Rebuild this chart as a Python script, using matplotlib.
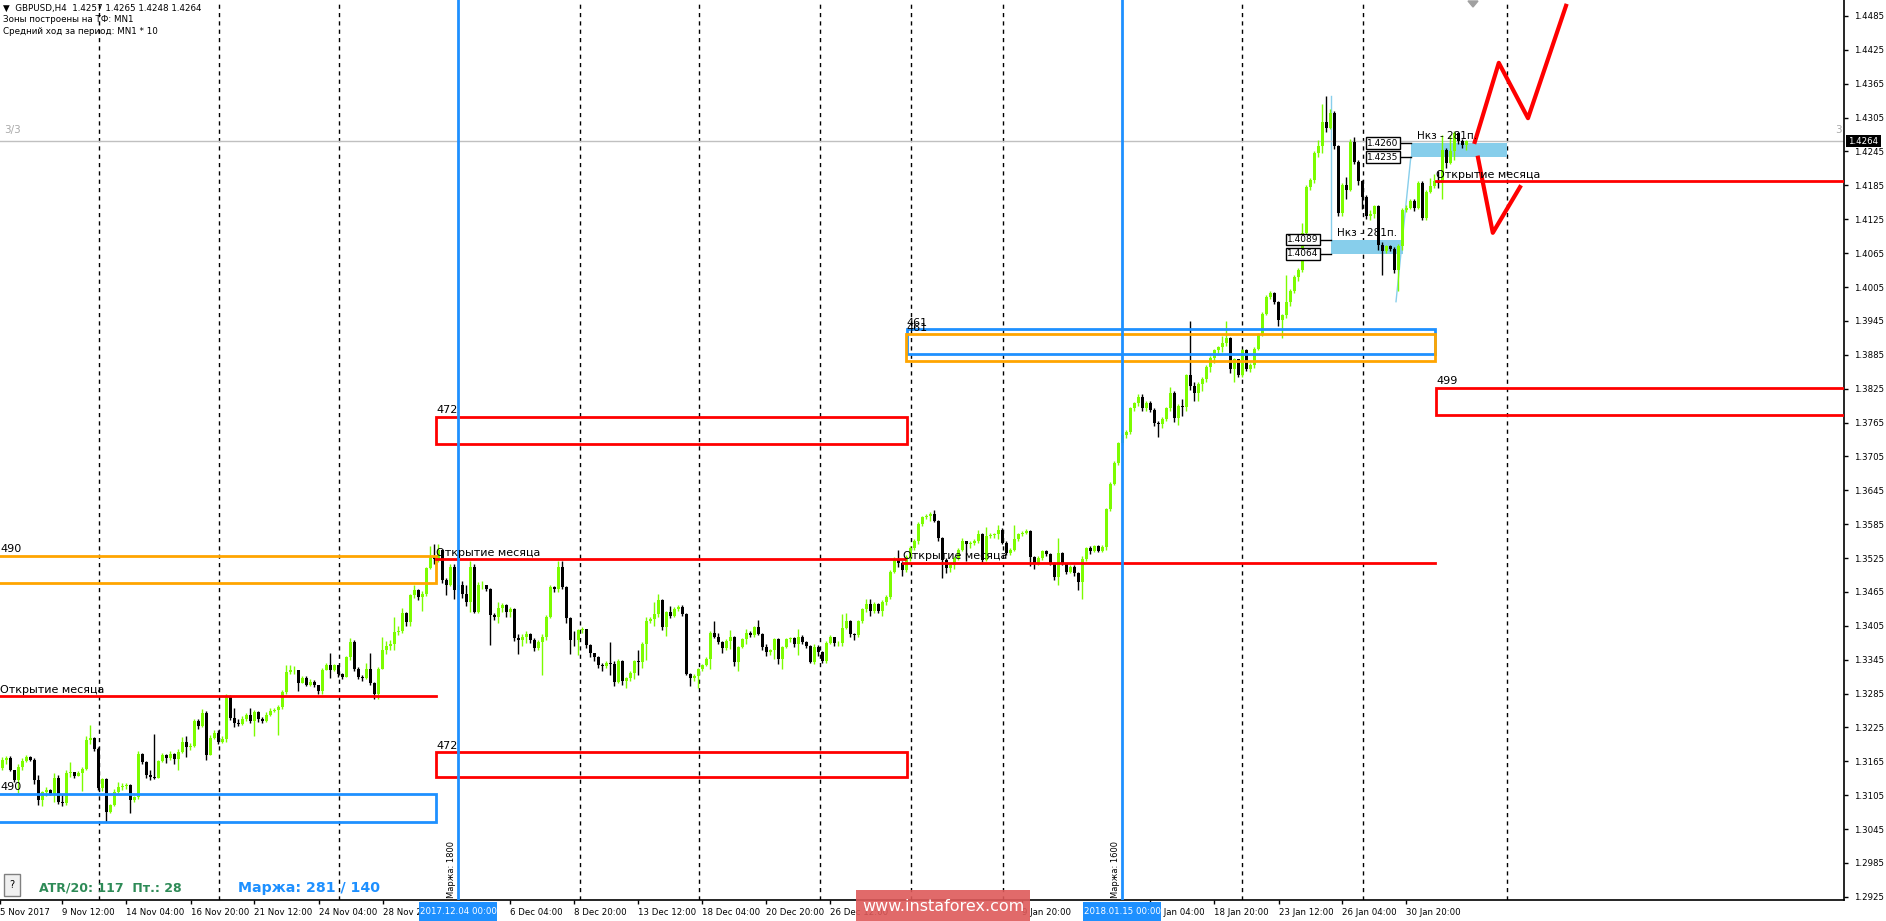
import numpy as np
import matplotlib.pyplot as plt
from matplotlib.patches import Rectangle, Polygon

W, H = 1886, 921
BAR_PX = 4  # MT4 bar spacing at this zoom level

# GBPUSD H4 candles, pips above 1.3000 (open = previous close)
first_open = 153
nov_close = [168, 171, 150, 132, 155, 166, 173, 168, 132, 96, 110, 115, 107, 136, 93, 91, 144, 146, 139, 145,
             152, 203, 207, 186, 117, 133, 76, 88, 111, 120, 121, 123, 96, 101, 178, 163, 140, 137, 136, 166,
             176, 170, 178, 169, 182, 200, 190, 193, 237, 228, 251, 176, 206, 215, 200, 205, 280, 241, 232, 231,
             240, 247, 236, 253, 240, 236, 247, 255, 256, 262, 288, 324, 326, 327, 304, 313, 300, 305, 300, 290,
             327, 336, 327, 335, 320, 315, 350, 377, 329, 315, 312, 329, 303, 285, 329, 362, 369, 372, 394, 395,
             427, 412, 459, 468, 456, 462, 507, 526, 523]
nov_high = [172, 174, 175, 150, 160, 170, 177, 175, 170, 140, 113, 120, 116, 145, 140, 106, 150, 164, 146, 148,
            155, 210, 229, 208, 190, 135, 135, 90, 116, 128, 126, 127, 124, 104, 183, 180, 165, 150, 213, 168,
            180, 178, 183, 180, 186, 208, 210, 198, 240, 240, 258, 255, 212, 220, 221, 210, 285, 282, 260, 240,
            245, 250, 260, 256, 255, 243, 253, 260, 260, 264, 292, 335, 336, 333, 325, 316, 316, 310, 309, 300,
            330, 340, 357, 338, 335, 322, 352, 384, 379, 332, 318, 340, 356, 305, 332, 385, 378, 380, 420, 405,
            437, 430, 462, 478, 470, 467, 510, 547, 550]
nov_low = [150, 160, 148, 128, 109, 150, 163, 165, 125, 88, 85, 103, 105, 93, 90, 85, 88, 138, 136, 140,
           112, 150, 196, 183, 115, 112, 58, 73, 85, 108, 115, 116, 74, 93, 98, 160, 135, 132, 133, 135,
           163, 162, 168, 160, 150, 180, 172, 185, 190, 222, 225, 168, 176, 204, 195, 198, 200, 238, 225, 227,
           230, 237, 232, 209, 235, 232, 234, 245, 252, 212, 258, 285, 320, 320, 290, 303, 298, 298, 296, 285,
           285, 326, 312, 325, 315, 310, 315, 345, 325, 310, 308, 310, 300, 275, 276, 330, 355, 362, 362, 388,
           392, 405, 405, 455, 450, 432, 458, 505, 515]

dec_close = [540, 486, 477, 509, 468, 478, 462, 448, 509, 430, 477, 478, 470, 424, 421, 436, 441, 430, 434, 383,
             380, 386, 391, 380, 365, 377, 385, 421, 474, 470, 509, 474, 418, 380, 379, 397, 399, 371, 356, 350,
             335, 333, 340, 338, 306, 343, 307, 313, 322, 343, 341, 373, 414, 417, 426, 450, 402, 429, 423, 435,
             438, 426, 320, 313, 316, 328, 335, 346, 393, 386, 377, 365, 378, 385, 341, 367, 381, 393, 389, 402,
             390, 367, 359, 362, 381, 346, 368, 381, 383, 373, 386, 376, 369, 341, 368, 358, 343, 375, 385, 374,
             375, 401, 414, 390, 389, 414, 435, 444, 431, 444, 432, 447, 456, 501, 522, 517]
dec_high = [550, 535, 490, 515, 515, 490, 485, 478, 520, 515, 482, 485, 475, 472, 428, 448, 445, 443, 438, 436,
            390, 390, 395, 393, 383, 380, 390, 425, 478, 475, 520, 520, 476, 420, 395, 400, 402, 400, 373, 356,
            352, 340, 343, 376, 343, 346, 345, 315, 325, 345, 362, 376, 420, 420, 447, 462, 452, 432, 440, 438,
            441, 442, 428, 322, 320, 330, 338, 350, 396, 414, 392, 378, 381, 398, 387, 370, 384, 400, 396, 405,
            415, 392, 372, 364, 383, 384, 370, 384, 386, 385, 400, 388, 378, 371, 372, 371, 360, 378, 388, 386,
            378, 426, 428, 415, 393, 416, 437, 453, 453, 447, 446, 450, 459, 503, 526, 540]
dec_low = [518, 480, 459, 475, 452, 470, 455, 440, 430, 428, 428, 470, 466, 371, 415, 410, 430, 420, 420, 378,
           355, 370, 375, 375, 360, 362, 318, 380, 418, 465, 465, 470, 410, 355, 370, 353, 393, 365, 350, 343,
           330, 325, 330, 318, 298, 303, 300, 295, 307, 310, 318, 330, 345, 410, 405, 420, 398, 387, 418, 420,
           432, 423, 318, 298, 308, 295, 325, 333, 328, 384, 372, 357, 362, 364, 334, 325, 365, 372, 385, 386,
           388, 362, 351, 354, 346, 337, 328, 365, 376, 368, 353, 372, 365, 340, 338, 352, 340, 340, 372, 370,
           369, 370, 400, 385, 380, 386, 410, 430, 423, 428, 428, 422, 442, 452, 498, 510]

jan_close = [504, 527, 543, 555, 585, 597, 600, 603, 590, 561, 522, 507, 512, 525, 540, 555, 549, 552, 555, 567,
             522, 564, 566, 567, 574, 552, 534, 540, 558, 567, 570, 573, 526, 514, 525, 537, 532, 516, 492, 534,
             516, 501, 510, 498, 483, 524, 542, 537, 546, 538, 545, 611, 657, 693, 728, 743, 749, 790, 799, 811,
             790, 800, 788, 764, 762, 772, 790, 817, 773, 794, 792, 849, 829, 817, 833, 842, 864, 879, 893, 898,
             906, 915, 859, 877, 849, 893, 860, 867, 896, 920, 957, 988, 994, 979, 947, 955, 979, 998, 1023, 1035,
             1100, 1183, 1195, 1242, 1254, 1298, 1286, 1313, 1254, 1136, 1186, 1177, 1262, 1227, 1192, 1165, 1130,
             1135, 1148, 1080, 1068, 1078, 1073, 1035, 1077, 1141, 1145, 1157, 1145, 1189, 1127, 1174, 1184, 1192]
jan_high = [520, 530, 546, 558, 588, 600, 603, 606, 610, 592, 562, 525, 515, 528, 543, 560, 556, 556, 558, 575,
            570, 580, 569, 570, 584, 578, 556, 543, 584, 570, 573, 576, 574, 528, 528, 540, 540, 534, 518, 561,
            536, 517, 512, 512, 500, 528, 545, 546, 548, 548, 548, 614, 660, 696, 731, 746, 752, 793, 802, 815,
            816, 803, 803, 790, 768, 775, 793, 828, 820, 797, 806, 851, 944, 836, 837, 845, 866, 882, 896, 901,
            918, 945, 917, 880, 878, 896, 895, 870, 898, 923, 960, 990, 998, 997, 981, 958, 1026, 1001, 1026, 1038,
            1118, 1186, 1198, 1246, 1265, 1330, 1343, 1320, 1316, 1256, 1190, 1200, 1268, 1270, 1230, 1195, 1168,
            1142, 1150, 1150, 1085, 1080, 1080, 1075, 1082, 1145, 1150, 1160, 1160, 1192, 1192, 1177, 1198, 1205]
jan_low = [494, 500, 520, 540, 550, 582, 595, 590, 588, 556, 489, 498, 500, 505, 522, 537, 519, 542, 548, 552,
           518, 520, 560, 561, 558, 549, 530, 530, 537, 555, 564, 567, 511, 505, 512, 522, 528, 512, 486, 478,
           512, 497, 498, 494, 468, 453, 520, 533, 535, 535, 535, 540, 608, 655, 690, 725, 738, 744, 786, 795,
           785, 786, 783, 758, 740, 756, 768, 786, 766, 760, 776, 786, 823, 804, 803, 820, 836, 855, 870, 885,
           890, 900, 852, 837, 845, 846, 856, 855, 862, 893, 918, 955, 984, 975, 936, 914, 950, 972, 995, 1015,
           1032, 1098, 1177, 1190, 1236, 1242, 1280, 1284, 1250, 1130, 1130, 1160, 1175, 1222, 1185, 1144, 1125,
           1124, 1128, 1070, 1026, 1065, 1068, 1030, 998, 1070, 1138, 1143, 1140, 1143, 1123, 1123, 1172, 1180]

feb_close = [1189, 1248, 1224, 1245, 1277, 1263, 1257, 1264]
feb_high = [1210, 1274, 1252, 1275, 1282, 1280, 1268, 1265]
feb_low = [1180, 1160, 1215, 1222, 1230, 1258, 1252, 1248]

# month opens ("Открытие месяца"), start bar of each month
month_open = [1.3281, 1.3523, 1.3517, 1.4192]
month_from = [-2, 108.5, 225.3, 358.5]
month_to = [108.5, 225.8, 358.3, 470]

# monthly zones
zone_label = ['490', '490', '472', '472', '461', '461', '499']
zone_lo = [1.3480, 1.3058, 1.3727, 1.3137, 1.3886, 1.3874, 1.3779]
zone_hi = [1.3529, 1.3107, 1.3775, 1.3181, 1.3930, 1.3921, 1.3827]
zone_from = [-2, -2, 108.5, 108.5, 226.2, 226.0, 358.5]
zone_to = [108.5, 108.5, 226.2, 226.2, 358.3, 358.3, 470]
zone_color = ['#FFA500', '#1E90FF', '#FF0000', '#FF0000', '#1E90FF', '#FFA500', '#FF0000']

# "Нкз" target boxes
nkz_lo = [1.4064, 1.4235]
nkz_hi = [1.4089, 1.4260]
nkz_from = [332.2, 352.2]
nkz_to = [350.2, 376.2]

# projection zigzags
zz_up_x = [368.2, 374.2, 381.5, 391.0]
zz_up_y = [1.4262, 1.4402, 1.4304, 1.4503]
zz_dn_x = [369.0, 372.7, 379.5]
zz_dn_y = [1.4234, 1.4101, 1.4182]

# margin vertical lines
margin_bar = [114, 280]
margin_text = ['Маржа: 1800', 'Маржа: 1600']
margin_date = ['2017.12.04 00:00', '2018.01.15 00:00']

grid_px = [99, 219, 339, 580, 699, 820, 911, 1003, 1242, 1363, 1507]

date_px = [0, 62, 126, 191, 254, 319, 383, 510, 574, 638, 702, 766, 830,
           1022, 1150, 1214, 1279, 1342, 1406]
date_labels = ['5 Nov 2017', '9 Nov 12:00', '14 Nov 04:00', '16 Nov 20:00', '21 Nov 12:00',
               '24 Nov 04:00', '28 Nov 20:00', '6 Dec 04:00', '8 Dec 20:00',
               '13 Dec 12:00', '18 Dec 04:00', '20 Dec 20:00', '26 Dec 12:00',
               '9 Jan 20:00', '16 Jan 04:00', '18 Jan 20:00',
               '23 Jan 12:00', '26 Jan 04:00', '30 Jan 20:00']

price_ticks = [round(1.2925 + 0.006 * k, 4) for k in range(27)]
last_price = 1.4264


def px2bar(px):
    return px / BAR_PX - 0.5


close = 1.3 + np.array(nov_close + dec_close + jan_close + feb_close) / 10000
high = 1.3 + np.array(nov_high + dec_high + jan_high + feb_high) / 10000
low = 1.3 + np.array(nov_low + dec_low + jan_low + feb_low) / 10000
opn = np.concatenate([[1.3 + first_open / 10000], close[:-1]])
high = np.maximum(high, np.maximum(opn, close))
low = np.minimum(low, np.minimum(opn, close))
idx = np.arange(len(close))
bull = close >= opn

fig = plt.figure(figsize=(W / 100, H / 100), dpi=100)
fig.patch.set_facecolor('white')
ax = fig.add_axes([0, 21 / H, 1844 / W, 900 / H])
ax.set_xlim(-0.5, 460.5)
ax.set_ylim(1.29194, 1.45133)
for s in ['top', 'left']:
    ax.spines[s].set_visible(False)
ax.spines['right'].set_linewidth(1.2)
ax.spines['bottom'].set_linewidth(1.2)

# grid
for g in grid_px:
    ax.axvline(px2bar(g), color='black', lw=1, ls=(0, (3, 3)), zorder=0.5)

# nkz boxes (background)
for lo, hi, x0, x1 in zip(nkz_lo, nkz_hi, nkz_from, nkz_to):
    ax.add_patch(Rectangle((x0, lo), x1 - x0, hi - lo, facecolor='#87CEEB', edgecolor='none', zorder=1))
ax.plot([nkz_from[0], nkz_from[0]], [nkz_hi[0], 1.4343], color='#87CEEB', lw=1, zorder=1)
ax.plot([348.5, nkz_from[1]], [1.3979, nkz_lo[1]], color='#87CEEB', lw=1, zorder=1)

# candles
wick_col = np.where(bull, '#7CFC00', 'black')
ax.vlines(idx, low, high, colors=wick_col, lw=1, zorder=2)
body = np.maximum(np.abs(close - opn), 0.00004)
ax.bar(idx, body, bottom=np.minimum(opn, close), width=0.75, color=wick_col, linewidth=0, zorder=2.1)

# ask line
ax.axhline(last_price, color='#C0C0C0', lw=1, zorder=1.5)

# zones
for lab, lo, hi, x0, x1, c in zip(zone_label, zone_lo, zone_hi, zone_from, zone_to, zone_color):
    ax.add_patch(Rectangle((x0, lo), x1 - x0, hi - lo, fill=False, edgecolor=c, lw=2, zorder=3))
    ax.text(max(x0, -0.5), hi + 0.0003, lab, fontsize=8, va='bottom', ha='left', zorder=4)

# month opens
for y, x0, x1 in zip(month_open, month_from, month_to):
    ax.plot([x0, x1], [y, y], color='#FF0000', lw=2, zorder=3)
    ax.text(max(x0, -0.5), y + 0.0002, 'Открытие месяца', fontsize=8, va='bottom', ha='left', zorder=4)

# margin lines
for b in margin_bar:
    ax.axvline(b, color='#1E90FF', lw=2, zorder=3)

# zigzags
ax.plot(zz_up_x, zz_up_y, color='#FF0000', lw=3, zorder=3)
ax.plot(zz_dn_x, zz_dn_y, color='#FF0000', lw=3, zorder=3)

# nkz labels
for lo, hi, x0 in zip(nkz_lo, nkz_hi, nkz_from):
    lx = x0 - 7
    for v in (hi, lo):
        ax.plot([lx + 4.3, x0], [v, v], color='black', lw=1, zorder=4)
        ax.text(lx, v, f'{v:.4f}', fontsize=6.5, ha='center', va='center', zorder=5,
                bbox=dict(boxstyle='square,pad=0.15', fc='white', ec='black', lw=1))
    ax.text(x0 + 1.5, hi + 0.0012, 'Нкз - 281п.', fontsize=7.5, ha='left', va='center', zorder=5)

# axes ticks
ax.yaxis.tick_right()
ax.set_yticks(price_ticks)
ax.set_yticklabels([f'{v:.4f}' for v in price_ticks])
ax.tick_params(axis='y', length=3, width=1, labelsize=6.2, pad=4)
ax.set_xticks([px2bar(p) for p in date_px])
ax.set_xticklabels(date_labels, ha='left')
ax.tick_params(axis='x', length=3, width=1, labelsize=6.2, pad=3)

# overlay in pixel coordinates
ov = fig.add_axes([0, 0, 1, 1], zorder=10)
ov.set_xlim(0, W)
ov.set_ylim(H, 0)
ov.axis('off')
ov.patch.set_alpha(0)

ov.text(3, 8, '▼  GBPUSD,H4  1.4257 1.4265 1.4248 1.4264', fontsize=6.3, va='center')
ov.text(3, 20, 'Зоны построены на ТФ: MN1', fontsize=6.3, va='center')
ov.text(3, 32, 'Средний ход за период: MN1 * 10', fontsize=6.3, va='center')
ov.text(4, 130, '3/3', fontsize=7.5, color='#A9A9A9', va='center')
ov.text(1835, 130, '3', fontsize=7.5, color='#A9A9A9', va='center')
ov.add_patch(Polygon([(1468, 1), (1478, 1), (1473, 7)], closed=True, color='#A0A0A0'))

# current price tag
ov.add_patch(Rectangle((1846, 135), 35, 12, facecolor='black', edgecolor='none'))
ov.text(1863.5, 141, f'{last_price:.4f}', fontsize=6.2, color='white', ha='center', va='center')

# margin texts and date highlights
for b, t, d in zip(margin_bar, margin_text, margin_date):
    xp = (b + 0.5) * BAR_PX
    ov.text(xp - 7, 898, t, fontsize=6, rotation=90, ha='center', va='bottom')
    ov.add_patch(Rectangle((xp - 39, 902), 78, 19, facecolor='#1E90FF', edgecolor='none'))
    ov.text(xp, 911.5, d, fontsize=6.2, color='white', ha='center', va='center')

# panel info
ov.add_patch(Rectangle((4, 874), 16, 22, facecolor='#F0F0F0', edgecolor='#808080', lw=1))
ov.text(12, 885, '?', fontsize=7, ha='center', va='center')
ov.text(39, 888, 'ATR/20: 117  Пт.: 28', fontsize=9, color='#2E8B57', fontweight='bold', va='center')
ov.text(238, 888, 'Маржа: 281 / 140', fontsize=10.2, color='#1E90FF', fontweight='bold', va='center')

# watermark
ov.add_patch(Rectangle((856, 890), 174, 31, facecolor='#DE5A5A', edgecolor='none', alpha=0.9))
ov.text(943, 906, 'www.instaforex.com', fontsize=11.5, color='white', ha='center', va='center')

fig.savefig('out.png', dpi=100)
